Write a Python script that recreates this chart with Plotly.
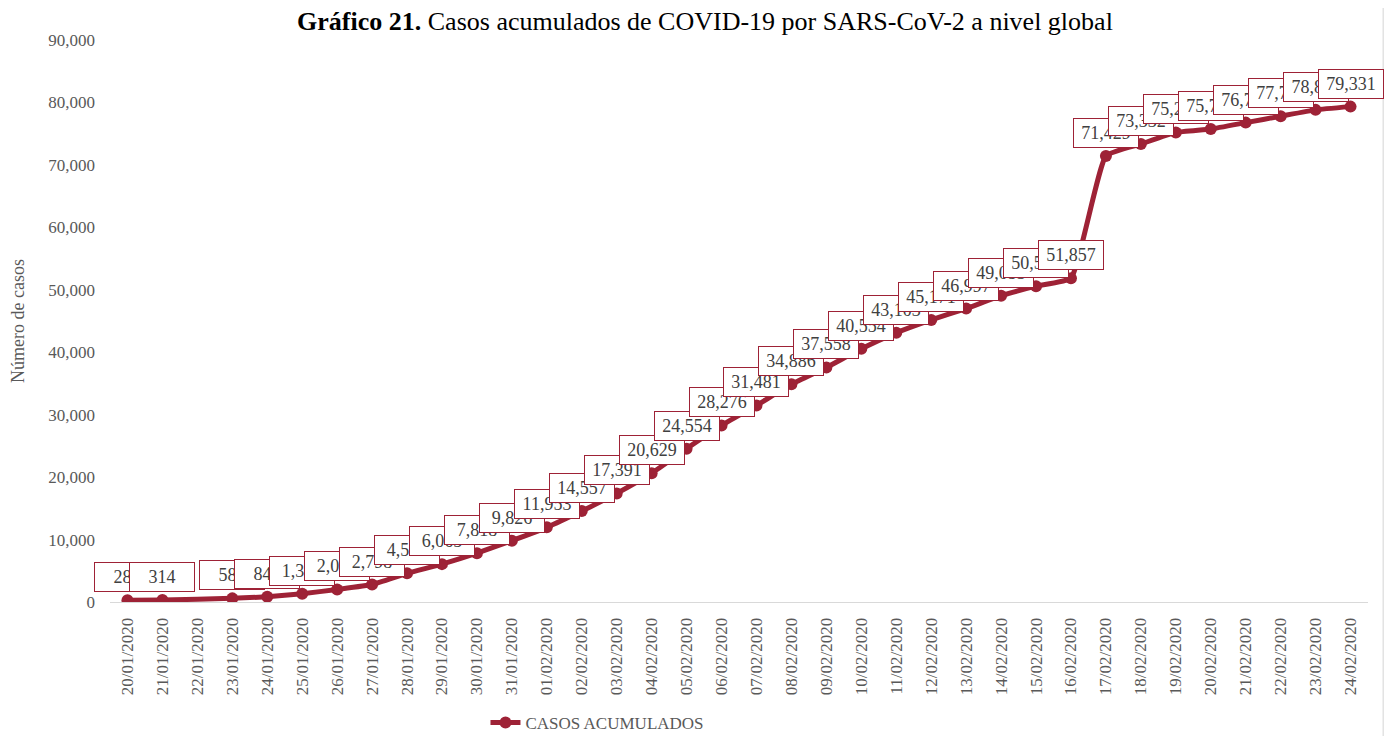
import plotly.graph_objects as go

# Casos acumulados de COVID-19 a nivel global (reportes OMS)
fechas = ["20/01/2020", "21/01/2020", "22/01/2020", "23/01/2020", "24/01/2020",
          "25/01/2020", "26/01/2020", "27/01/2020", "28/01/2020", "29/01/2020",
          "30/01/2020", "31/01/2020", "01/02/2020", "02/02/2020", "03/02/2020",
          "04/02/2020", "05/02/2020", "06/02/2020", "07/02/2020", "08/02/2020",
          "09/02/2020", "10/02/2020", "11/02/2020", "12/02/2020", "13/02/2020",
          "14/02/2020", "15/02/2020", "16/02/2020", "17/02/2020", "18/02/2020",
          "19/02/2020", "20/02/2020", "21/02/2020", "22/02/2020", "23/02/2020",
          "24/02/2020"]
casos = [282, 314, None, 581, 846, 1320, 2014, 2798, 4593, 6065,
         7818, 9826, 11953, 14557, 17391, 20629, 24554, 28276, 31481, 34886,
         37558, 40554, 43103, 45171, 46997, 49053, 50580, 51857, 71429, 73332,
         75204, 75748, 76769, 77794, 78811, 79331]
y_ticks = [0, 10000, 20000, 30000, 40000, 50000, 60000, 70000, 80000, 90000]

rojo = "#9e2236"
gris = "#595959"
serif = "Liberation Serif"

fig = go.Figure()
fig.add_trace(go.Scatter(
    x=fechas, y=casos, mode="lines+markers", name="CASOS ACUMULADOS",
    connectgaps=True,
    line=dict(color=rojo, width=5, shape="spline", smoothing=0.4),
    marker=dict(color=rojo, size=12),
))

# etiquetas de datos en cajas
for f, v in zip(fechas, casos):
    if v is None:
        continue
    fig.add_annotation(
        x=f, y=v, text=f"{v:,}", showarrow=False, yshift=23,
        font=dict(family=serif, size=18, color="#404040"),
        bgcolor="white", bordercolor=rojo, borderwidth=1, borderpad=4,
        width=56,
    )

# la página agrega 8 px de margen: figura un poco más pequeña
fig.update_layout(
    width=1384, height=728,
    paper_bgcolor="white", plot_bgcolor="white",
    margin=dict(l=102, r=24, t=32, b=134),
    title=dict(
        text="<b>Gráfico 21.</b> Casos acumulados de COVID-19 por SARS-CoV-2 a nivel global",
        x=0.5036, xanchor="center", y=0.982, yanchor="middle",
        font=dict(family=serif, size=26, color="black"),
    ),
    showlegend=True,
    legend=dict(orientation="h", xref="container", x=0.345, xanchor="left",
                yref="container", y=0.018, yanchor="middle",
                font=dict(family=serif, size=17, color=gris)),
    font=dict(family=serif, color=gris),
)

fig.update_xaxes(
    type="category", range=[-0.5, 35.5], automargin=False,
    tickangle=-90, showgrid=False,
    showline=True, linecolor="#d9d9d9", linewidth=1,
    tickfont=dict(family=serif, size=17, color=gris),
    ticks="", ticklabelstandoff=8,
)
fig.update_yaxes(
    range=[0, 90000], tickvals=y_ticks, tickformat=",", automargin=False,
    showgrid=False, zeroline=False, showline=False,
    tickfont=dict(family=serif, size=17, color=gris),
    ticklabelstandoff=14,
    title=dict(text="Número de casos", font=dict(family=serif, size=18, color=gris), standoff=20),
)

# marco gris del recorte (borde derecho)
fig.add_shape(type="rect", xref="paper", yref="paper", x0=1.0115, x1=1.03, y0=-0.3, y1=1.08,
              fillcolor="#e3e3e3", line_width=0, layer="above")

fig.write_html("out.html")
